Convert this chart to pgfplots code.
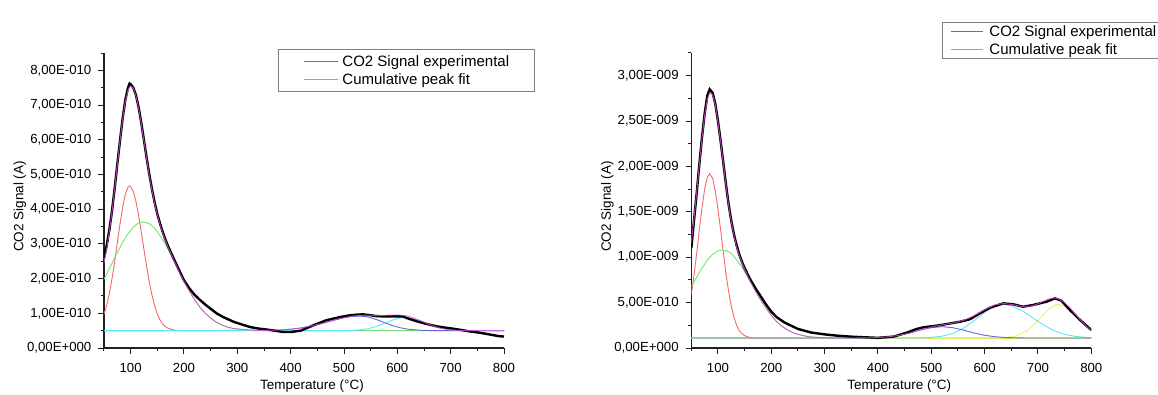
\documentclass[border=0pt]{standalone}
\usepackage{fontspec}
\setmainfont{Liberation Sans}
\usepackage{pgfplots}
\pgfplotsset{compat=1.18}
\definecolor{cRed}{HTML}{F46868}
\definecolor{cGreen}{HTML}{74E274}
\definecolor{cCyanB}{HTML}{8AF0F0}
\definecolor{cBlue}{HTML}{6A64DC}
\definecolor{cCyan}{HTML}{5CE6F2}
\definecolor{cYellow}{HTML}{F2F062}
\definecolor{cMag}{HTML}{E048E0}
\definecolor{cLeg}{HTML}{EE70EE}
\definecolor{cLegK}{HTML}{707070}
\definecolor{cAxis}{HTML}{202020}
\pgfplotsset{
  tpdstyle/.style={
    scale only axis, width=400pt, height=295pt,
    axis lines=left,
    axis line style={-, line width=1.3pt, cAxis},
    tick align=outside,
    major tick length=5.5pt, minor tick length=3pt,
    every tick/.append style={cAxis, line width=1pt},
    xmin=50, xmax=800,
    xtick={100,200,...,800},
    minor xtick={50,150,...,750},
    ymin=0,
    xticklabel style={font=\fontsize{13.2}{15}\selectfont, inner sep=0pt, anchor=center, yshift=-14.5pt},
    yticklabel style={font=\fontsize{13.2}{15}\selectfont, inner sep=0pt, anchor=east, xshift=-7pt},
    /pgf/number format/assume math mode=true,
    xlabel={Temperature (°C)},
    ylabel={CO2 Signal (A)},
    every axis x label/.style={at={(axis description cs:0.52,0)}, anchor=center, yshift=-38pt, font=\fontsize{13.5}{16}\selectfont},
    every axis y label/.style={at={(axis description cs:-0.21,0.48)}, anchor=center, rotate=90, font=\fontsize{13.5}{16}\selectfont},
    legend cell align=left,
    legend style={draw=black!50, line width=0.9pt, fill=white, font=\fontsize{15}{18}\selectfont, anchor=north west,
      nodes={inner sep=0pt, text height=10.5pt, text depth=0pt}, row sep=7.5pt},
  },
  comp/.style={line width=0.9pt, forget plot},
  expt/.style={black, line width=2.4pt, forget plot},
  fitl/.style={cMag, line width=0.9pt, opacity=0.8, forget plot},
}
\begin{document}
\begin{tikzpicture}
\path[use as bounding box] (0pt,0pt) rectangle (1158pt,394pt);
% ---------------- left chart (y in units of 1E-10 A)
\begin{axis}[tpdstyle, at={(104pt,46pt)}, anchor=south west,
  ymax=8.5, ytick={0,1,...,8}, minor ytick={0.5,1.5,...,8.5},
  yticklabels={{0,00E+000},{1,00E-010},{2,00E-010},{3,00E-010},{4,00E-010},{5,00E-010},{6,00E-010},{7,00E-010},{8,00E-010}},
  legend image code/.code={\draw[line width=1pt,#1] (0pt,0pt) -- (34pt,0pt);},
  legend style={at={(axis description cs:0.435,1.0136)}, inner xsep=25pt, inner ysep=7pt, column sep=4pt}]
\addlegendimage{cLegK}
\addlegendentry{CO2 Signal experimental}
\addlegendimage{cLeg}
\addlegendentry{Cumulative peak fit}
\addplot[comp, cCyanB] coordinates {(50,0.5)(800,0.5)};
\addplot[comp, cRed] coordinates {(50,0.97)(55,1.23)(60,1.57)(65,1.99)(70,2.49)(75,3.03)(80,3.57)(85,4.05)(90,4.43)(95,4.63)(98,4.67)(100,4.66)(105,4.51)(110,4.22)(115,3.81)(120,3.33)(125,2.83)(130,2.34)(135,1.90)(140,1.52)(145,1.21)(150,0.98)(155,0.81)(160,0.69)(165,0.62)(170,0.57)(180,0.52)(190,0.505)(200,0.5)(260,0.5)};
\addplot[comp, cGreen] coordinates {(50,1.98)(55,2.13)(60,2.29)(65,2.44)(70,2.60)(75,2.75)(80,2.90)(85,3.04)(90,3.17)(95,3.29)(100,3.39)(105,3.48)(110,3.55)(115,3.60)(120,3.62)(124,3.63)(130,3.61)(135,3.58)(140,3.52)(145,3.45)(150,3.35)(155,3.24)(160,3.12)(165,2.99)(170,2.84)(180,2.54)(190,2.23)(200,1.92)(210,1.64)(220,1.39)(230,1.17)(240,1.00)(250,0.86)(260,0.75)(270,0.67)(280,0.61)(290,0.57)(300,0.55)(320,0.52)(340,0.505)(360,0.5)(800,0.5)};
\addplot[comp, cBlue] coordinates {(50,0.5)(360,0.508)(380,0.518)(400,0.54)(420,0.578)(440,0.636)(460,0.713)(480,0.797)(500,0.871)(515,0.907)(530,0.92)(545,0.894)(560,0.825)(575,0.737)(590,0.651)(605,0.585)(620,0.542)(640,0.514)(660,0.503)(680,0.5)(800,0.5)};
\addplot[comp, cCyan] coordinates {(50,0.5)(480,0.5)(500,0.502)(515,0.508)(530,0.523)(545,0.557)(560,0.618)(575,0.705)(590,0.799)(605,0.866)(615,0.88)(620,0.876)(640,0.799)(660,0.674)(680,0.574)(700,0.523)(720,0.505)(740,0.501)(800,0.5)};
\addplot[expt] coordinates {(50,2.60)(55,2.95)(60,3.40)(65,3.95)(70,4.60)(75,5.30)(80,5.98)(85,6.62)(90,7.15)(95,7.50)(98,7.62)(100,7.60)(105,7.50)(110,7.28)(115,6.93)(120,6.48)(125,5.98)(130,5.47)(135,5.00)(140,4.57)(145,4.19)(150,3.86)(155,3.59)(160,3.35)(165,3.13)(170,2.94)(180,2.60)(190,2.27)(200,1.95)(210,1.72)(220,1.53)(231,1.37)(240,1.25)(250,1.13)(262,0.99)(275,0.88)(294,0.75)(310,0.67)(325,0.60)(340,0.56)(356,0.53)(370,0.50)(387,0.46)(400,0.46)(419,0.50)(442,0.65)(467,0.80)(492,0.89)(510,0.94)(523,0.96)(535,0.97)(548,0.95)(560,0.92)(575,0.91)(591,0.91)(610,0.91)(622,0.84)(641,0.75)(656,0.69)(672,0.63)(688,0.59)(703,0.56)(720,0.52)(735,0.48)(750,0.45)(766,0.41)(780,0.37)(791,0.34)(800,0.33)};
\addplot[fitl] coordinates {(50,2.45)(55,2.86)(60,3.35)(65,3.93)(70,4.59)(75,5.28)(80,5.97)(85,6.60)(90,7.10)(95,7.43)(98,7.52)(100,7.55)(105,7.49)(110,7.26)(115,6.91)(120,6.46)(125,5.96)(130,5.45)(135,4.97)(140,4.54)(145,4.16)(150,3.83)(155,3.56)(160,3.32)(165,3.10)(170,2.91)(180,2.56)(190,2.23)(200,1.92)(210,1.64)(220,1.39)(230,1.17)(240,1.00)(250,0.86)(260,0.75)(270,0.67)(280,0.61)(290,0.57)(300,0.55)(320,0.52)(340,0.505)(360,0.51)(380,0.52)(400,0.54)(420,0.58)(440,0.64)(460,0.71)(480,0.80)(500,0.87)(515,0.92)(530,0.94)(545,0.95)(560,0.94)(575,0.94)(590,0.95)(605,0.95)(615,0.93)(620,0.92)(640,0.81)(660,0.68)(680,0.57)(700,0.52)(720,0.505)(740,0.50)(800,0.50)};
\end{axis}
% ---------------- right chart (y in units of 1E-9 A)
\begin{axis}[tpdstyle, at={(691.3pt,46pt)}, anchor=south west,
  ymax=3.25, ytick={0,0.5,...,3}, minor ytick={0.25,0.75,...,3.25},
  yticklabels={{0,00E+000},{5,00E-010},{1,00E-009},{1,50E-009},{2,00E-009},{2,50E-009},{3,00E-009}},
  legend image code/.code={\draw[line width=1pt,#1] (0pt,0pt) -- (32pt,0pt);},
  legend style={at={(axis description cs:0.6268,1.105)}, inner xsep=8pt, inner ysep=4pt, column sep=6pt, row sep=7pt}]
\addlegendimage{cLegK}
\addlegendentry{CO2 Signal experimental}
\addlegendimage{cLeg}
\addlegendentry{Cumulative peak fit}
\addplot[comp, cYellow] coordinates {(50,0.11)(800,0.11)};
\addplot[comp, cRed] coordinates {(50,0.59)(55,0.80)(60,1.04)(65,1.30)(70,1.54)(75,1.75)(80,1.88)(84.5,1.92)(90,1.87)(95,1.73)(100,1.53)(105,1.30)(110,1.06)(115,0.82)(120,0.62)(125,0.46)(130,0.34)(135,0.25)(140,0.19)(145,0.16)(150,0.135)(160,0.116)(170,0.11)(250,0.11)};
\addplot[comp, cGreen] coordinates {(50,0.675)(55,0.73)(60,0.78)(65,0.83)(70,0.88)(75,0.92)(80,0.97)(84.5,1.00)(90,1.03)(95,1.05)(100,1.07)(108,1.08)(115,1.07)(120,1.06)(125,1.04)(130,1.01)(135,0.97)(140,0.93)(145,0.89)(150,0.84)(160,0.74)(170,0.63)(180,0.53)(190,0.44)(200,0.36)(210,0.29)(220,0.24)(230,0.20)(240,0.17)(250,0.15)(270,0.124)(290,0.115)(320,0.11)(800,0.11)};
\addplot[comp, cYellow] coordinates {(50,0.11)(600,0.11)(620,0.111)(640,0.115)(660,0.133)(680,0.190)(700,0.302)(710,0.369)(720,0.429)(730,0.469)(738,0.48)(750,0.46)(760,0.416)(770,0.357)(780,0.295)(790,0.238)(800,0.192)};
\addplot[comp, cCyan] coordinates {(50,0.11)(460,0.11)(480,0.112)(500,0.117)(520,0.130)(540,0.160)(560,0.216)(580,0.299)(600,0.393)(620,0.463)(635,0.481)(650,0.467)(670,0.413)(690,0.334)(710,0.255)(730,0.192)(750,0.151)(770,0.128)(790,0.117)(800,0.114)};
\addplot[comp, cBlue] coordinates {(50,0.11)(360,0.11)(380,0.112)(400,0.115)(420,0.124)(440,0.140)(460,0.166)(480,0.198)(500,0.224)(520,0.235)(540,0.224)(560,0.198)(580,0.166)(600,0.140)(620,0.124)(640,0.115)(660,0.112)(680,0.11)(800,0.11)};
\addplot[expt] coordinates {(50,1.10)(55,1.40)(60,1.70)(65,2.02)(70,2.32)(75,2.58)(80,2.78)(84.5,2.85)(90,2.81)(95,2.69)(100,2.50)(105,2.28)(110,2.04)(115,1.80)(120,1.58)(125,1.40)(130,1.25)(135,1.13)(140,1.03)(145,0.95)(150,0.88)(160,0.76)(170,0.66)(180,0.57)(190,0.48)(200,0.40)(210,0.34)(225,0.28)(250,0.21)(275,0.17)(300,0.15)(325,0.135)(350,0.125)(375,0.118)(400,0.112)(429,0.125)(454,0.169)(472,0.209)(485,0.228)(510,0.246)(529,0.264)(554,0.29)(572,0.316)(591,0.382)(610,0.444)(635,0.492)(654,0.481)(672,0.455)(691,0.474)(716,0.51)(732,0.547)(744,0.521)(760,0.418)(779,0.308)(800,0.198)};
\addplot[fitl] coordinates {(50,1.16)(55,1.42)(60,1.71)(65,2.02)(70,2.31)(75,2.56)(80,2.74)(84.5,2.81)(90,2.79)(95,2.68)(100,2.49)(105,2.27)(110,2.03)(115,1.79)(120,1.57)(125,1.39)(130,1.24)(135,1.11)(140,1.02)(145,0.94)(150,0.87)(160,0.74)(170,0.63)(180,0.53)(190,0.44)(200,0.36)(210,0.29)(220,0.24)(230,0.20)(240,0.17)(250,0.15)(270,0.124)(290,0.115)(320,0.11)(350,0.11)(380,0.112)(400,0.115)(420,0.124)(440,0.140)(460,0.166)(480,0.199)(500,0.231)(520,0.255)(540,0.274)(560,0.304)(580,0.355)(600,0.423)(620,0.477)(635,0.49)(650,0.481)(670,0.458)(690,0.464)(710,0.514)(720,0.54)(730,0.552)(738,0.543)(750,0.50)(760,0.443)(770,0.375)(780,0.306)(790,0.244)(800,0.196)};
\end{axis}
\end{tikzpicture}
\end{document}
